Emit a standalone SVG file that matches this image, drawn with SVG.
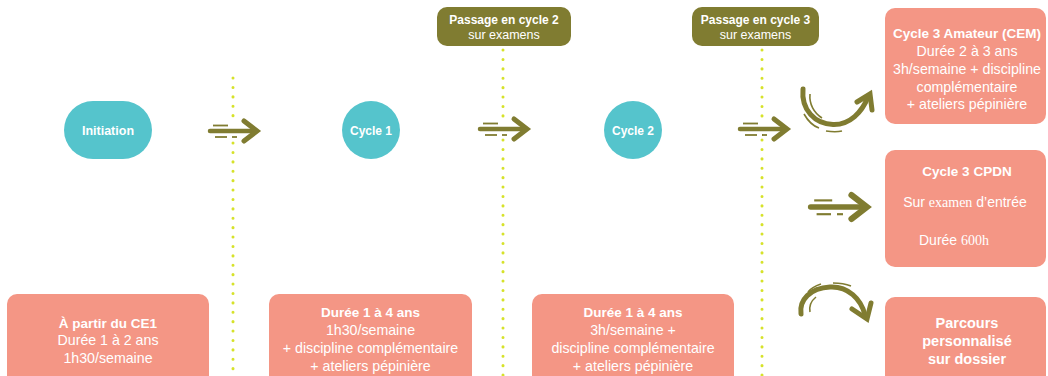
<svg xmlns="http://www.w3.org/2000/svg" width="1048" height="376" viewBox="0 0 1048 376">
<style>
.t{font-family:"Liberation Sans",Arial,sans-serif;fill:#ffffff;text-anchor:middle}
.b{font-weight:bold}
.serif{font-family:"Liberation Serif","Times New Roman",serif}
.pass{fill:#807c31}
.box{fill:#f49685}
.node{fill:#55c4cc}
.dot{stroke:#d6e22a;stroke-width:3;stroke-linecap:round;stroke-dasharray:0.1 9.3;fill:none}
.ol{stroke:#807c31;fill:none}
</style>
<defs>
<g id="arr">
<line class="ol" x1="-47" y1="0" x2="-3" y2="0" stroke-width="4.5" stroke-linecap="round"/>
<polyline class="ol" points="-13,-10 0,0 -13,10" stroke-width="5" stroke-linejoin="miter" stroke-linecap="round"/>
<line class="ol" x1="-44" y1="-5.5" x2="-29" y2="-5.5" stroke-width="1.8"/>
<line class="ol" x1="-42" y1="6" x2="-30" y2="6" stroke-width="1.8"/>
<line class="ol" x1="-25" y1="6" x2="-20" y2="6" stroke-width="1.8"/>
</g>
</defs>
<rect width="1048" height="376" fill="#ffffff"/>

<g id="connectors">
<line class="dot" x1="233" y1="78" x2="233" y2="118"/>
<line class="dot" x1="233" y1="143" x2="233" y2="376"/>
<line class="dot" x1="503" y1="50" x2="503" y2="116"/>
<line class="dot" x1="503" y1="140" x2="503" y2="376"/>
<line class="dot" x1="762" y1="50" x2="762" y2="116"/>
<line class="dot" x1="762" y1="140" x2="762" y2="376"/>
<use href="#arr" transform="translate(257,131)"/>
<use href="#arr" transform="translate(527,129)"/>
<use href="#arr" transform="translate(787,129)"/>
<use href="#arr" transform="translate(867,207) scale(1.2)"/>
<g id="curve-top">
<path class="ol" d="M803,89 C801,110 815,124 833,124.5 C850,125 862,112 868,97" stroke-width="5" stroke-linecap="round"/>
<polyline class="ol" points="857,102 870,94 872,110" stroke-width="5" stroke-linecap="round" stroke-linejoin="miter"/>
<path class="ol" d="M810,94 C809,104 814,113 822,118" stroke-width="1.6"/>
<path class="ol" d="M804,114 C808,121 813,126 819,128" stroke-width="1.6"/>
<path class="ol" d="M826,131 C832,132 838,132 842,131" stroke-width="1.6"/>
</g>
<g id="curve-bottom">
<path class="ol" d="M801,314 C799,300 810,288 830,287 C848,286 861,299 865,315" stroke-width="5" stroke-linecap="round"/>
<polyline class="ol" points="852,309 867,319 871,303" stroke-width="5" stroke-linecap="round" stroke-linejoin="miter"/>
<path class="ol" d="M808,292 C811,288 815,286 821,284" stroke-width="1.6"/>
<path class="ol" d="M833,283 C840,283 846,284 851,286" stroke-width="1.6"/>
<path class="ol" d="M810,312 C809,306 811,301 816,297" stroke-width="1.6"/>
</g>
</g>

<g id="passage2">
<rect class="pass" x="437" y="7" width="134" height="39" rx="10"/>
<text class="t b" x="504" y="23.5" font-size="12">Passage en cycle 2</text>
<text class="t" x="504" y="39" font-size="12.5">sur examens</text>
</g>
<g id="passage3">
<rect class="pass" x="692" y="7" width="127" height="39" rx="10"/>
<text class="t b" x="755.5" y="23.5" font-size="12">Passage en cycle 3</text>
<text class="t" x="755.5" y="39" font-size="12.5">sur examens</text>
</g>

<g id="initiation">
<rect class="node" x="64" y="101" width="88" height="58" rx="29"/>
<text class="t b" x="108" y="134.5" font-size="12.5">Initiation</text>
</g>
<g id="cycle1">
<circle class="node" cx="371" cy="130" r="29"/>
<text class="t b" x="371" y="134.5" font-size="12">Cycle 1</text>
</g>
<g id="cycle2">
<circle class="node" cx="633" cy="130" r="29"/>
<text class="t b" x="633" y="134.5" font-size="12">Cycle 2</text>
</g>

<g id="cem">
<rect class="box" x="885" y="8" width="161" height="116" rx="10"/>
<text class="t b" x="967" y="38" font-size="13.5">Cycle 3 Amateur (CEM)</text>
<text class="t" x="967" y="56" font-size="14.2">Durée 2 à 3 ans</text>
<text class="t" x="967" y="74" font-size="14.2">3h/semaine + discipline</text>
<text class="t" x="967" y="91.5" font-size="14.2">complémentaire</text>
<text class="t" x="967" y="109" font-size="14.2">+ ateliers pépinière</text>
</g>
<g id="cpdn">
<rect class="box" x="885" y="150" width="161" height="117" rx="10"/>
<text class="t b" x="967" y="176" font-size="13.5">Cycle 3 CPDN</text>
<text class="t" x="965" y="207" font-size="14">Sur <tspan class="serif">examen</tspan> d’entrée</text>
<text class="t" x="919" y="245" font-size="14" text-anchor="start" style="text-anchor:start">Durée <tspan class="serif">600h</tspan></text>
</g>
<g id="parcours">
<rect class="box" x="885" y="297" width="161" height="100" rx="10"/>
<text class="t b" x="967" y="328" font-size="14.5">Parcours</text>
<text class="t b" x="967" y="346" font-size="14.5">personnalisé</text>
<text class="t b" x="967" y="364" font-size="14.5">sur dossier</text>
</g>

<g id="box-initiation">
<rect class="box" x="7" y="294" width="202" height="100" rx="10"/>
<text class="t b" x="108" y="327.5" font-size="13.5">À partir du CE1</text>
<text class="t" x="108" y="345" font-size="14.2">Durée 1 à 2 ans</text>
<text class="t" x="108" y="362.5" font-size="14.2">1h30/semaine</text>
</g>
<g id="box-cycle1">
<rect class="box" x="269" y="294" width="203" height="100" rx="10"/>
<text class="t b" x="370.5" y="316.5" font-size="13.5">Durée 1 à 4 ans</text>
<text class="t" x="370.5" y="334.5" font-size="14.2">1h30/semaine</text>
<text class="t" x="370.5" y="352.5" font-size="14.2">+ discipline complémentaire</text>
<text class="t" x="370.5" y="370.5" font-size="14.2">+ ateliers pépinière</text>
</g>
<g id="box-cycle2">
<rect class="box" x="532" y="294" width="202" height="100" rx="10"/>
<text class="t b" x="633" y="316.5" font-size="13.5">Durée 1 à 4 ans</text>
<text class="t" x="633" y="334.5" font-size="14.2">3h/semaine +</text>
<text class="t" x="633" y="352.5" font-size="14.2">discipline complémentaire</text>
<text class="t" x="633" y="370.5" font-size="14.2">+ ateliers pépinière</text>
</g>
</svg>
